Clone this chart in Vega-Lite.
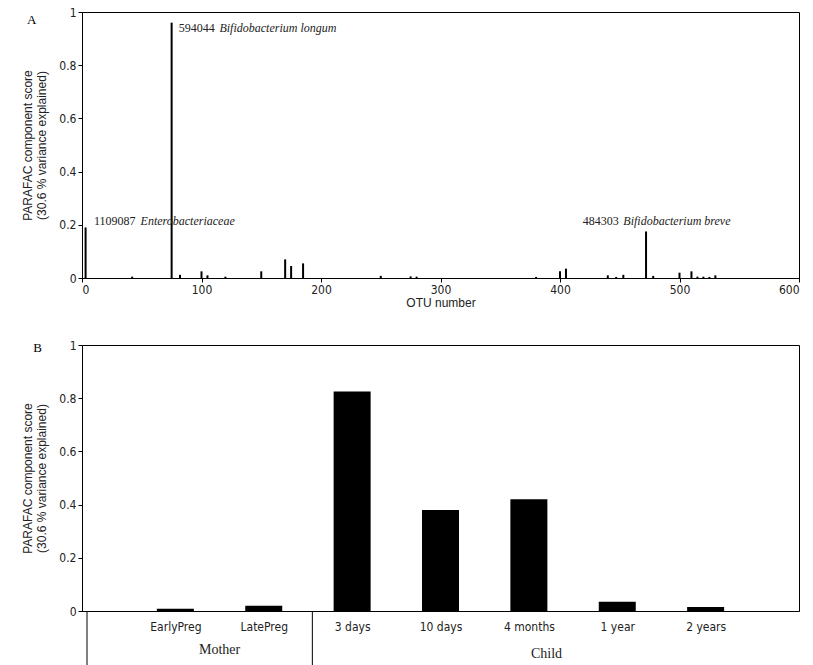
{
  "$schema": "https://vega.github.io/schema/vega-lite/v6.json",
  "background": "white",
  "padding": {"left": 21, "top": 5, "right": 14, "bottom": 0},
  "spacing": 29,
  "datasets": {
    "otu": [
      {"otu": 3, "score": 0.19}, {"otu": 42, "score": 0.005}, {"otu": 75, "score": 0.96},
      {"otu": 82, "score": 0.012}, {"otu": 100, "score": 0.025}, {"otu": 105, "score": 0.01},
      {"otu": 120, "score": 0.005}, {"otu": 150, "score": 0.025}, {"otu": 170, "score": 0.07},
      {"otu": 175, "score": 0.045}, {"otu": 185, "score": 0.055}, {"otu": 250, "score": 0.008},
      {"otu": 275, "score": 0.006}, {"otu": 280, "score": 0.005}, {"otu": 380, "score": 0.004},
      {"otu": 400, "score": 0.025}, {"otu": 405, "score": 0.035}, {"otu": 440, "score": 0.01},
      {"otu": 447, "score": 0.004}, {"otu": 453, "score": 0.012}, {"otu": 472, "score": 0.175},
      {"otu": 478, "score": 0.008}, {"otu": 500, "score": 0.02}, {"otu": 510, "score": 0.025},
      {"otu": 515, "score": 0.005}, {"otu": 520, "score": 0.005}, {"otu": 525, "score": 0.004},
      {"otu": 530, "score": 0.01}
    ],
    "otuNumbers": [
      {"otu": 81, "score": 0.94, "label": "594044"},
      {"otu": 10, "score": 0.215, "label": "1109087"},
      {"otu": 419, "score": 0.215, "label": "484303"}
    ],
    "otuNames": [
      {"otu": 115, "score": 0.94, "label": "Bifidobacterium longum"},
      {"otu": 49, "score": 0.215, "label": "Enterobacteriaceae"},
      {"otu": 453, "score": 0.215, "label": "Bifidobacterium breve"}
    ],
    "samples": [
      {"pos": 1, "score": 0.008, "label": "EarlyPreg"},
      {"pos": 2, "score": 0.02, "label": "LatePreg"},
      {"pos": 3, "score": 0.825, "label": "3 days"},
      {"pos": 4, "score": 0.38, "label": "10 days"},
      {"pos": 5, "score": 0.42, "label": "4 months"},
      {"pos": 6, "score": 0.035, "label": "1 year"},
      {"pos": 7, "score": 0.015, "label": "2 years"}
    ],
    "groups": [
      {"pos": 1.5, "score": -0.145, "label": "Mother"},
      {"pos": 5.2, "score": -0.16, "label": "Child"}
    ],
    "dividers": [
      {"pos": 0, "top": 0, "bottom": -0.3},
      {"pos": 2.55, "top": 0, "bottom": -0.3}
    ]
  },
  "config": {
    "view": {"stroke": "black", "strokeWidth": 1},
    "axis": {
      "grid": false, "domainColor": "black", "tickColor": "black",
      "labelFont": "DejaVu Sans Condensed", "labelFontSize": 12, "labelColor": "#222",
      "titleFont": "Liberation Sans", "titleFontSize": 12, "titleFontWeight": "normal", "titleColor": "#222",
      "tickSize": 4
    }
  },
  "vconcat": [
    {
      "width": 717, "height": 266,
      "layer": [
        {
          "data": {"name": "otu"},
          "mark": {"type": "rule", "color": "black", "strokeWidth": 2},
          "encoding": {
            "x": {"field": "otu", "type": "quantitative", "scale": {"domain": [0, 600], "nice": false},
              "axis": {"values": [0, 100, 200, 300, 400, 500, 600], "title": "OTU number", "titlePadding": 2}},
            "y": {"field": "score", "type": "quantitative", "scale": {"domain": [0, 1]},
              "axis": {"values": [0, 0.2, 0.4, 0.6, 0.8, 1], "format": "~g", "title": ["PARAFAC component score", "(30.6 % variance explained)"], "titlePadding": 10}},
            "y2": {"datum": 0}
          }
        },
        {
          "data": {"name": "otuNumbers"},
          "mark": {"type": "text", "font": "Liberation Serif", "fontSize": 12, "align": "left", "color": "#222"},
          "encoding": {"x": {"field": "otu", "type": "quantitative"}, "y": {"field": "score", "type": "quantitative"}, "text": {"field": "label"}}
        },
        {
          "data": {"name": "otuNames"},
          "mark": {"type": "text", "font": "Liberation Serif", "fontStyle": "italic", "fontSize": 12, "align": "left", "color": "#222"},
          "encoding": {"x": {"field": "otu", "type": "quantitative"}, "y": {"field": "score", "type": "quantitative"}, "text": {"field": "label"}}
        },
        {
          "data": {"values": [{"otu": -42, "score": 0.97, "label": "A"}]},
          "mark": {"type": "text", "font": "Liberation Serif", "fontSize": 13, "clip": false},
          "encoding": {"x": {"field": "otu", "type": "quantitative"}, "y": {"field": "score", "type": "quantitative"}, "text": {"field": "label"}}
        }
      ]
    },
    {
      "width": 717, "height": 266,
      "layer": [
        {
          "data": {"name": "samples"},
          "mark": {"type": "bar", "color": "black", "size": 37},
          "encoding": {
            "x": {"field": "pos", "type": "quantitative", "scale": {"domain": [0, 8], "nice": false},
              "axis": {"values": [1, 2, 3, 4, 5, 6, 7], "ticks": false, "labelPadding": 10, "title": null,
                "labelExpr": "['','EarlyPreg','LatePreg','3 days','10 days','4 months','1 year','2 years'][datum.value]"}},
            "y": {"field": "score", "type": "quantitative", "scale": {"domain": [0, 1]},
              "axis": {"values": [0, 0.2, 0.4, 0.6, 0.8, 1], "format": "~g", "title": ["PARAFAC component score", "(30.6 % variance explained)"], "titlePadding": 10}}
          }
        },
        {
          "data": {"name": "groups"},
          "mark": {"type": "text", "font": "Liberation Serif", "fontSize": 14, "clip": false, "color": "#222"},
          "encoding": {"x": {"field": "pos", "type": "quantitative"}, "y": {"field": "score", "type": "quantitative"}, "text": {"field": "label"}}
        },
        {
          "data": {"name": "dividers"},
          "mark": {"type": "rule", "color": "black", "clip": false},
          "encoding": {"x": {"field": "pos", "type": "quantitative"}, "y": {"field": "top", "type": "quantitative"}, "y2": {"field": "bottom"}}
        },
        {
          "data": {"values": [{"pos": -0.56, "score": 0.99, "label": "B"}]},
          "mark": {"type": "text", "font": "Liberation Serif", "fontSize": 13, "clip": false},
          "encoding": {"x": {"field": "pos", "type": "quantitative"}, "y": {"field": "score", "type": "quantitative"}, "text": {"field": "label"}}
        }
      ]
    }
  ]
}
